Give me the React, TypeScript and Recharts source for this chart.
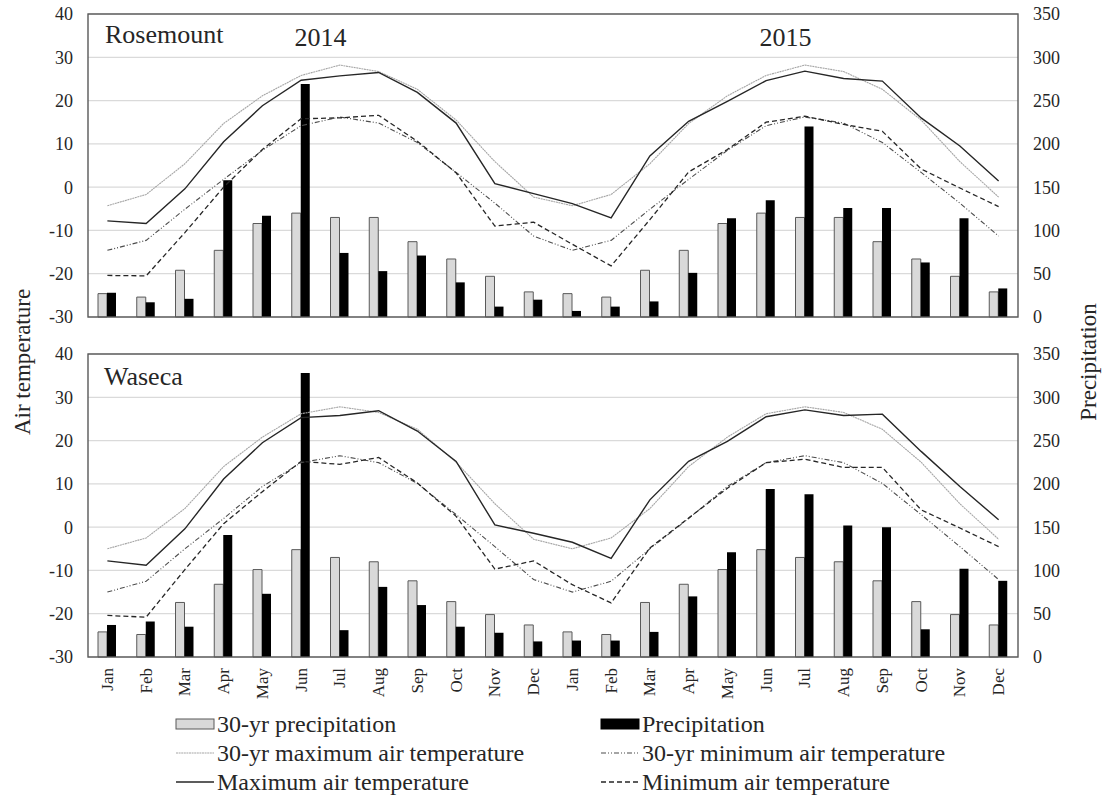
import React from "react";
import { ComposedChart, Bar, Line, XAxis, YAxis, CartesianGrid } from "recharts";

const FONT = "'Liberation Serif', 'Times New Roman', serif";
const INK = "#262626";

const MONTHS = ["Jan", "Feb", "Mar", "Apr", "May", "Jun", "Jul", "Aug", "Sep", "Oct", "Nov", "Dec"];
const PERIODS = [...MONTHS, ...MONTHS]; // 2014 then 2015
const YEARS = ["2014", "2015"];
const TEMP_TICKS = [-30, -20, -10, 0, 10, 20, 30, 40];
const PRECIP_TICKS = [0, 50, 100, 150, 200, 250, 300, 350];

// Rosemount (precipitation in mm, temperature in °C)
const ROSE_PRECIP_30YR = [
  27, 23, 54, 77, 108, 120, 115, 115, 87, 67, 47, 29,
  27, 23, 54, 77, 108, 120, 115, 115, 87, 67, 47, 29,
];
const ROSE_PRECIP = [
  28, 17, 21, 158, 117, 269, 74, 53, 71, 40, 12, 20,
  7, 12, 18, 51, 114, 135, 220, 126, 126, 63, 114, 33,
];
const ROSE_MAX_30YR = [
  -4.3, -1.7, 5.4, 14.7, 21.1, 25.8, 28.2, 26.7, 22.6, 15.5, 5.9, -2.3,
  -4.3, -1.7, 5.4, 14.7, 21.1, 25.8, 28.2, 26.7, 22.6, 15.5, 5.9, -2.3,
];
const ROSE_MAX = [
  -7.8, -8.4, -0.4, 10.5, 18.8, 24.7, 25.7, 26.5, 21.9, 14.8, 0.8, -1.5,
  -3.8, -7.1, 7.2, 15.2, 19.8, 24.6, 26.8, 25.1, 24.5, 16.0, 9.5, 1.4,
];
const ROSE_MIN_30YR = [
  -14.6, -12.3, -5.1, 1.8, 8.5, 14.2, 16.2, 14.8, 10.3, 3.4, -3.7, -11.3,
  -14.6, -12.3, -5.1, 1.8, 8.5, 14.2, 16.2, 14.8, 10.3, 3.4, -3.7, -11.3,
];
const ROSE_MIN = [
  -20.4, -20.5, -10.5, 0.0, 8.7, 15.8, 16.0, 16.6, 10.6, 3.3, -9.0, -8.1,
  -13.2, -18.2, -7.5, 3.5, 8.7, 15.0, 16.4, 14.5, 12.9, 4.2, -0.2, -4.5,
];

// Waseca
const WAS_PRECIP_30YR = [
  29, 26, 63, 84, 101, 124, 115, 110, 88, 64, 49, 37,
  29, 26, 63, 84, 101, 124, 115, 110, 88, 64, 49, 37,
];
const WAS_PRECIP = [
  37, 41, 35, 141, 73, 328, 31, 81, 60, 35, 28, 18,
  19, 19, 29, 70, 121, 194, 188, 152, 150, 32, 102, 88,
];
const WAS_MAX_30YR = [
  -5.0, -2.5, 4.3, 14.0, 20.8, 26.2, 27.8, 26.5, 22.6, 15.0, 5.4, -2.8,
  -5.0, -2.5, 4.3, 14.0, 20.8, 26.2, 27.8, 26.5, 22.6, 15.0, 5.4, -2.8,
];
const WAS_MAX = [
  -7.8, -8.8, -0.4, 11.1, 19.5, 25.3, 25.8, 26.9, 22.2, 15.2, 0.5, -1.4,
  -3.5, -7.2, 6.3, 15.2, 19.8, 25.5, 27.1, 25.8, 26.1, 17.5, 9.4, 1.7,
];
const WAS_MIN_30YR = [
  -15.0, -12.5, -5.0, 2.0, 9.4, 14.9, 16.5, 14.9, 10.1, 2.9, -4.5, -12.1,
  -15.0, -12.5, -5.0, 2.0, 9.4, 14.9, 16.5, 14.9, 10.1, 2.9, -4.5, -12.1,
];
const WAS_MIN = [
  -20.4, -20.8, -9.8, 0.8, 8.2, 15.2, 14.5, 16.1, 10.2, 2.5, -9.7, -7.8,
  -13.3, -17.5, -4.8, 2.1, 9.0, 14.9, 15.7, 13.8, 13.8, 4.0, -0.2, -4.5,
];

// series look, shared by the lines and the legend
const LINES = {
  max30: { label: "30-yr maximum air temperature", stroke: "#a6a6a6", width: 1.1, dash: "2 0.6" },
  min30: { label: "30-yr minimum air temperature", stroke: "#4d4d4d", width: 1.1, dash: "5 2 1 2 1 2" },
  max: { label: "Maximum air temperature", stroke: "#262626", width: 1.4, dash: undefined },
  min: { label: "Minimum air temperature", stroke: "#262626", width: 1.3, dash: "5 3" },
};
const BARS = {
  precip30: { label: "30-yr precipitation", fill: "#d9d9d9", stroke: "#595959" },
  precip: { label: "Precipitation", fill: "#000000", stroke: "none" },
};

// page geometry
const W = 1104;
const PLOT_L = 88;
const PLOT_R = 1018;
const PANELS = [
  { top: 0, plotTop: 14, plotBottom: 317 },
  { top: 340, plotTop: 354, plotBottom: 657 },
];

function makeRows(p30: number[], p: number[], mx30: number[], mx: number[], mn30: number[], mn: number[]) {
  return PERIODS.map((month, i) => ({
    month,
    precip30: p30[i],
    precip: p[i],
    max30: mx30[i],
    max: mx[i],
    min30: mn30[i],
    min: mn[i],
  }));
}

const roseRows = makeRows(ROSE_PRECIP_30YR, ROSE_PRECIP, ROSE_MAX_30YR, ROSE_MAX, ROSE_MIN_30YR, ROSE_MIN);
const wasRows = makeRows(WAS_PRECIP_30YR, WAS_PRECIP, WAS_MAX_30YR, WAS_MAX, WAS_MIN_30YR, WAS_MIN);

const tickStyle = { fontSize: 18, fontFamily: FONT, fill: INK };

function MonthTick({ x, y, payload }: any) {
  return (
    <text
      x={x}
      y={y}
      transform={`rotate(-90 ${x} ${y})`}
      textAnchor="end"
      dy="0.33em"
      fontSize={17}
      style={{ fontFamily: FONT }}
      fill={INK}
    >
      {payload.value}
    </text>
  );
}

function Panel({ rows, top, showMonths }: { rows: any[]; top: number; showMonths: boolean }) {
  const height = showMonths ? 367 : 330;
  return (
    <div style={{ position: "absolute", left: 0, top }}>
      <ComposedChart
        width={W}
        height={height}
        data={rows}
        margin={{ top: 14, right: 26, bottom: showMonths ? 0 : 13, left: 28 }}
        barGap={0}
        barSize={9}
      >
        <CartesianGrid yAxisId="t" vertical={false} stroke="#dadada" strokeWidth={1.3} />
        <XAxis
          dataKey="month"
          hide={!showMonths}
          height={50}
          axisLine={false}
          tickLine={false}
          tickMargin={5}
          interval={0}
          tick={<MonthTick />}
        />
        <YAxis
          yAxisId="t"
          domain={[-30, 40]}
          ticks={TEMP_TICKS}
          width={60}
          axisLine={false}
          tickLine={false}
          tickMargin={9}
          tick={tickStyle}
        />
        <YAxis
          yAxisId="p"
          orientation="right"
          domain={[0, 350]}
          ticks={PRECIP_TICKS}
          width={60}
          axisLine={false}
          tickLine={false}
          tickMargin={9}
          tick={{ ...tickStyle, textAnchor: "start" }}
        />
        <Bar
          yAxisId="p"
          dataKey="precip30"
          fill={BARS.precip30.fill}
          stroke={BARS.precip30.stroke}
          strokeWidth={1}
          isAnimationActive={false}
        />
        <Bar yAxisId="p" dataKey="precip" fill={BARS.precip.fill} isAnimationActive={false} />
        {(Object.keys(LINES) as (keyof typeof LINES)[]).map((key) => (
          <Line
            key={key}
            yAxisId="t"
            type="linear"
            dataKey={key}
            stroke={LINES[key].stroke}
            strokeWidth={LINES[key].width}
            strokeDasharray={LINES[key].dash}
            dot={false}
            activeDot={false}
            isAnimationActive={false}
          />
        ))}
      </ComposedChart>
    </div>
  );
}

const LEGEND_ORDER = [
  { kind: "bar", key: "precip30" },
  { kind: "bar", key: "precip" },
  { kind: "line", key: "max30" },
  { kind: "line", key: "min30" },
  { kind: "line", key: "max" },
  { kind: "line", key: "min" },
] as const;
const LEGEND_COLS = [176, 601];
const LEGEND_ROWS = [724, 753, 782];

function Overlay() {
  const yearMid = (i: number) => PLOT_L + ((PLOT_R - PLOT_L) / 2) * (i + 0.5);
  const midY = 362;
  return (
    <svg
      width={W}
      height={808}
      style={{ position: "absolute", left: 0, top: 0, pointerEvents: "none", fontFamily: FONT }}
      fill={INK}
    >
      {PANELS.map((p, i) => (
        <rect
          key={i}
          x={PLOT_L}
          y={p.plotTop}
          width={PLOT_R - PLOT_L}
          height={p.plotBottom - p.plotTop}
          fill="none"
          stroke="#595959"
          strokeWidth={1.4}
        />
      ))}
      <text x={105} y={43} fontSize={26}>Rosemount</text>
      <text x={104} y={385} fontSize={26}>Waseca</text>
      {YEARS.map((yr, i) => (
        <text key={yr} x={yearMid(i)} y={46} fontSize={26} textAnchor="middle">
          {yr}
        </text>
      ))}
      <text
        x={22}
        y={midY}
        fontSize={23}
        textAnchor="middle"
        dy="0.35em"
        transform={`rotate(-90 22 ${midY})`}
      >
        Air temperature
      </text>
      <text
        x={1088}
        y={midY}
        fontSize={23}
        textAnchor="middle"
        dy="0.35em"
        transform={`rotate(-90 1088 ${midY})`}
      >
        Precipitation
      </text>
      {LEGEND_ORDER.map((item, i) => {
        const x = LEGEND_COLS[i % 2];
        const y = LEGEND_ROWS[Math.floor(i / 2)];
        if (item.kind === "bar") {
          const b = BARS[item.key];
          return (
            <g key={item.key}>
              <rect x={x} y={y - 5} width={38} height={10} fill={b.fill} stroke={b.stroke === "none" ? b.fill : b.stroke} strokeWidth={1} />
              <text x={x + 41} y={y} dy="0.35em" fontSize={24}>{b.label}</text>
            </g>
          );
        }
        const l = LINES[item.key];
        return (
          <g key={item.key}>
            <line x1={x} x2={x + 38} y1={y} y2={y} stroke={l.stroke} strokeWidth={l.width} strokeDasharray={l.dash} />
            <text x={x + 41} y={y} dy="0.35em" fontSize={24}>{l.label}</text>
          </g>
        );
      })}
    </svg>
  );
}

export default function App() {
  return (
    <div style={{ position: "absolute", left: 0, top: 0, width: W, height: 808, background: "#fff", fontFamily: FONT }}>
      <Panel rows={roseRows} top={PANELS[0].top} showMonths={false} />
      <Panel rows={wasRows} top={PANELS[1].top} showMonths={true} />
      <Overlay />
    </div>
  );
}
